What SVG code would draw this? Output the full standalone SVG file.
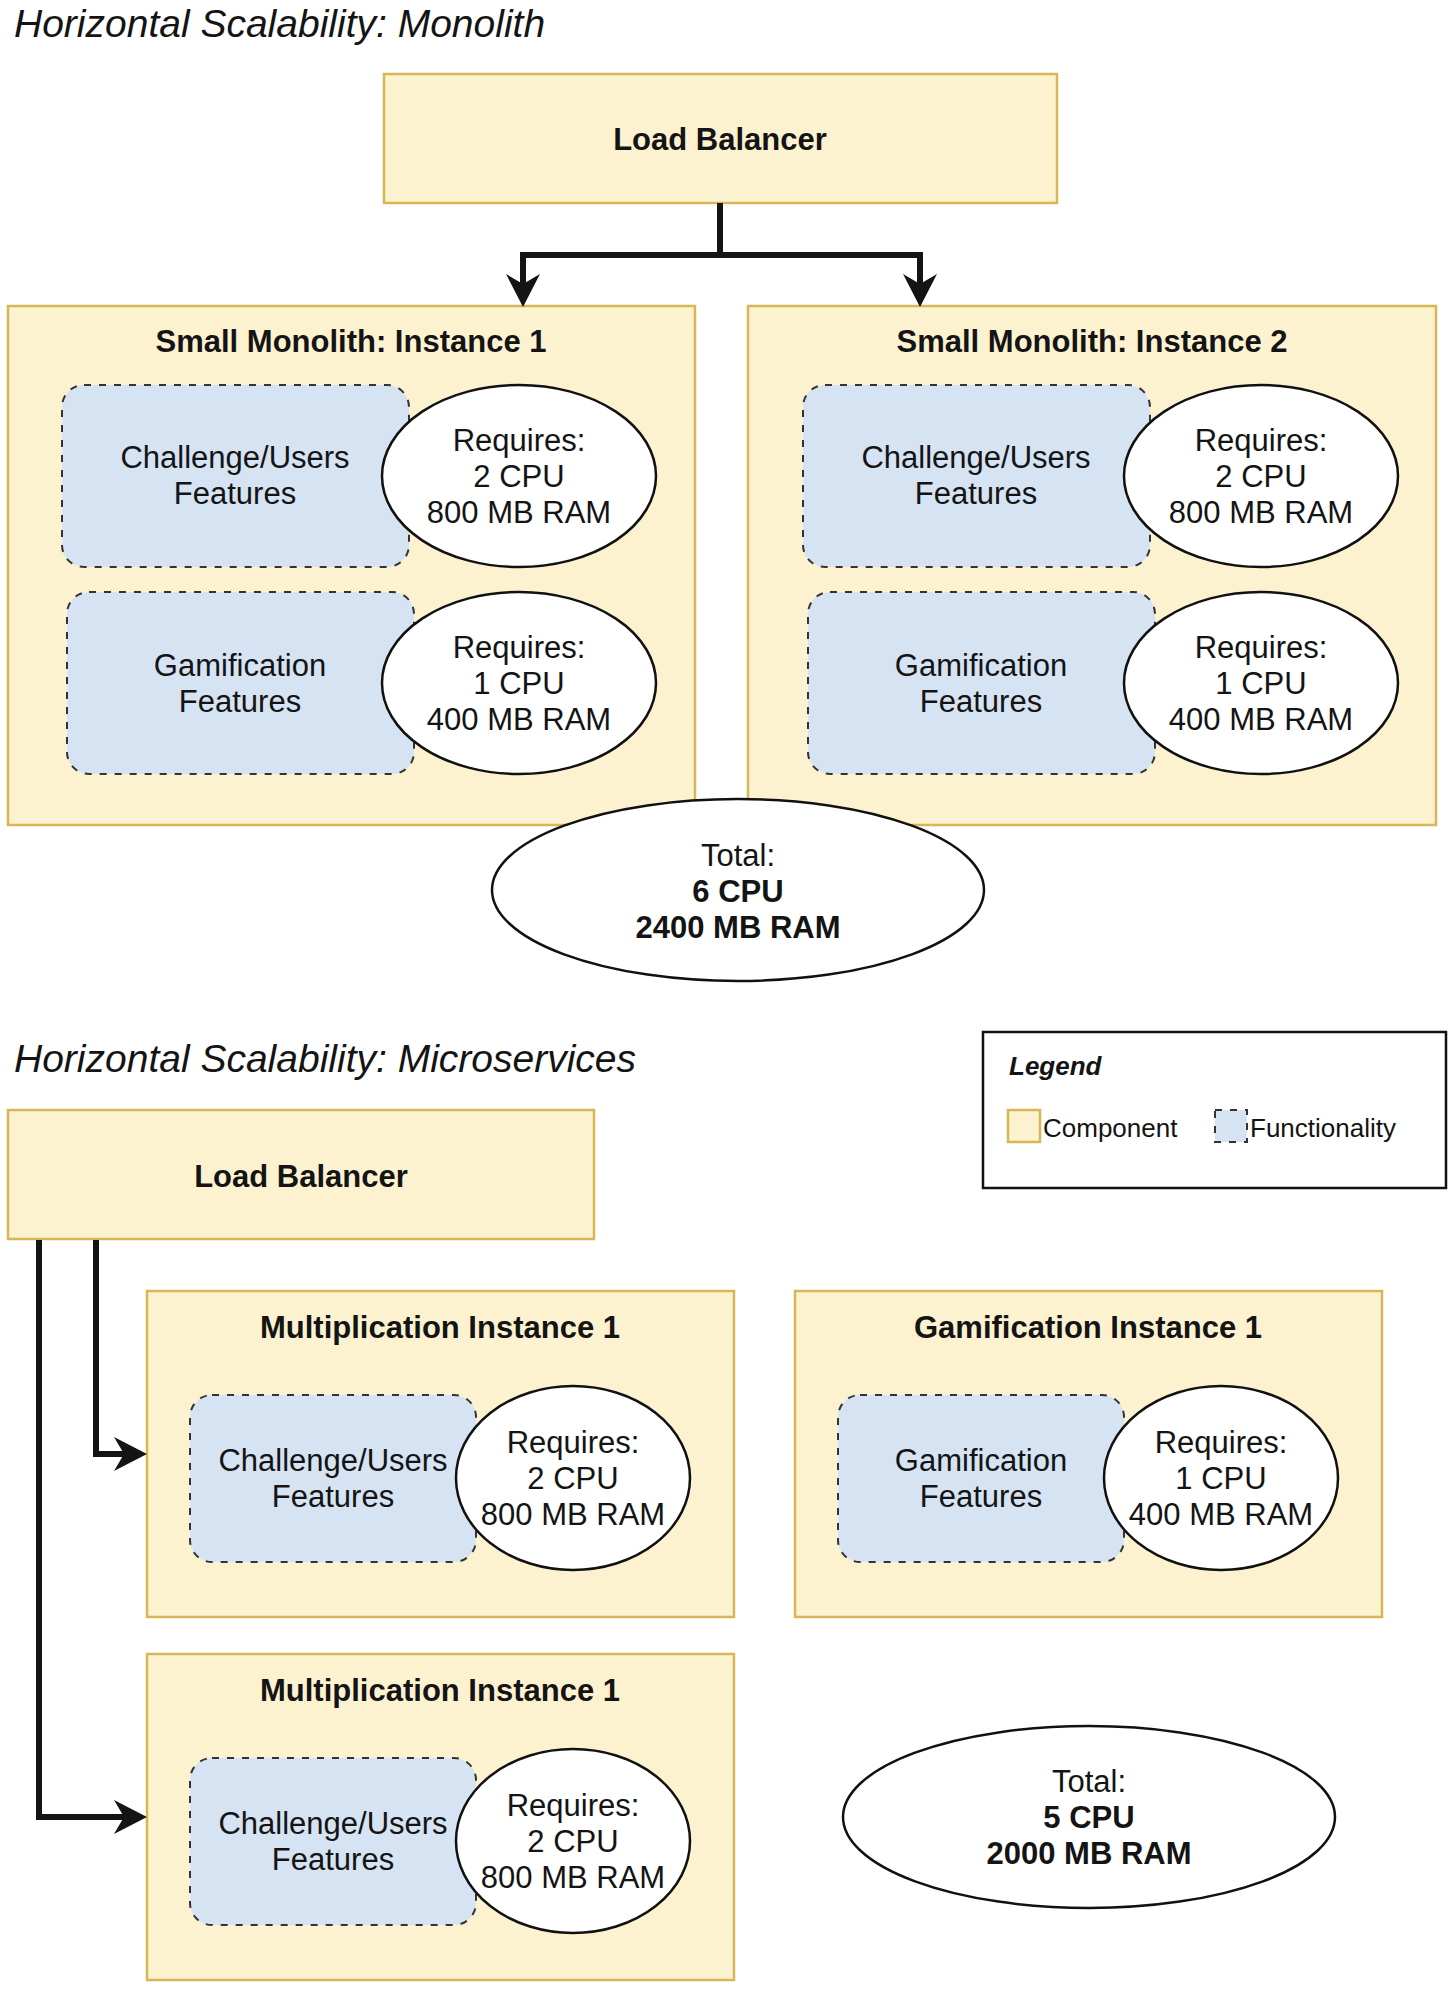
<svg xmlns="http://www.w3.org/2000/svg" width="1455" height="1989" viewBox="0 0 1455 1989">
<defs>
<style>
.bg{fill:#ffffff}
.comp{fill:#FDF2D0;stroke:#D6B656;stroke-width:2.5}
.func{fill:#D5E3F3;stroke:#333333;stroke-width:2;stroke-dasharray:7 8}
.ell{fill:#ffffff;stroke:#111111;stroke-width:2.5}
.t{font-family:"Liberation Sans",Arial,Helvetica,sans-serif;font-size:31px;fill:#141414;text-anchor:middle}
.b{font-weight:bold}
.title{font-family:"Liberation Sans",Arial,Helvetica,sans-serif;font-size:39px;font-style:italic;fill:#141414}
.leg{font-family:"Liberation Sans",Arial,Helvetica,sans-serif;font-size:26px;fill:#141414}
.conn{fill:none;stroke:#141414;stroke-width:6;stroke-linejoin:miter;stroke-linecap:butt}
</style>
<marker id="arr" viewBox="0 0 33 34" refX="10" refY="17" markerWidth="33" markerHeight="34" markerUnits="userSpaceOnUse" orient="auto">
<path d="M0,0 L33,17 L0,34 L10,17 Z" fill="#141414"/>
</marker>
</defs>
<rect class="bg" x="0" y="0" width="1455" height="1989"/>

<text class="title" x="14" y="37">Horizontal Scalability: Monolith</text>
<text class="title" x="14" y="1072">Horizontal Scalability: Microservices</text>

<g id="lb1">
<rect class="comp" x="384" y="74" width="673" height="129"/>
<text class="t b" x="720" y="150">Load Balancer</text>
</g>

<g id="mono1">
<rect class="comp" x="8" y="306" width="687" height="519"/>
<text class="t b" x="351" y="352">Small Monolith: Instance 1</text>
<rect class="func" x="62" y="385" width="347" height="182" rx="22"/>
<text class="t" x="235" y="468">Challenge/Users</text>
<text class="t" x="235" y="504">Features</text>
<ellipse class="ell" cx="519" cy="476" rx="137" ry="91"/>
<text class="t" x="519" y="451">Requires:</text>
<text class="t" x="519" y="487">2 CPU</text>
<text class="t" x="519" y="523">800 MB RAM</text>
<rect class="func" x="67" y="592" width="347" height="182" rx="22"/>
<text class="t" x="240" y="676">Gamification</text>
<text class="t" x="240" y="712">Features</text>
<ellipse class="ell" cx="519" cy="683" rx="137" ry="91"/>
<text class="t" x="519" y="658">Requires:</text>
<text class="t" x="519" y="694">1 CPU</text>
<text class="t" x="519" y="730">400 MB RAM</text>
</g>

<g id="mono2">
<rect class="comp" x="748" y="306" width="688" height="519"/>
<text class="t b" x="1092" y="352">Small Monolith: Instance 2</text>
<rect class="func" x="803" y="385" width="347" height="182" rx="22"/>
<text class="t" x="976" y="468">Challenge/Users</text>
<text class="t" x="976" y="504">Features</text>
<ellipse class="ell" cx="1261" cy="476" rx="137" ry="91"/>
<text class="t" x="1261" y="451">Requires:</text>
<text class="t" x="1261" y="487">2 CPU</text>
<text class="t" x="1261" y="523">800 MB RAM</text>
<rect class="func" x="808" y="592" width="347" height="182" rx="22"/>
<text class="t" x="981" y="676">Gamification</text>
<text class="t" x="981" y="712">Features</text>
<ellipse class="ell" cx="1261" cy="683" rx="137" ry="91"/>
<text class="t" x="1261" y="658">Requires:</text>
<text class="t" x="1261" y="694">1 CPU</text>
<text class="t" x="1261" y="730">400 MB RAM</text>
</g>

<g id="total1">
<ellipse class="ell" cx="738" cy="890" rx="246" ry="91"/>
<text class="t" x="738" y="866">Total:</text>
<text class="t b" x="738" y="902">6 CPU</text>
<text class="t b" x="738" y="938">2400 MB RAM</text>
</g>

<g id="legend">
<rect x="983" y="1032" width="463" height="156" fill="#ffffff" stroke="#111111" stroke-width="2.5"/>
<text class="leg" x="1009" y="1075" font-weight="bold" font-style="italic">Legend</text>
<rect class="comp" x="1008" y="1110" width="32" height="32" stroke-width="2"/>
<text class="leg" x="1043" y="1137">Component</text>
<rect class="func" x="1215" y="1110" width="32" height="32" stroke-dasharray="6 6"/>
<text class="leg" x="1250" y="1137">Functionality</text>
</g>

<g id="lb2">
<rect class="comp" x="8" y="1110" width="586" height="129"/>
<text class="t b" x="301" y="1187">Load Balancer</text>
</g>

<g id="mult1">
<rect class="comp" x="147" y="1291" width="587" height="326"/>
<text class="t b" x="440" y="1338">Multiplication Instance 1</text>
<rect class="func" x="190" y="1395" width="286" height="167" rx="22"/>
<text class="t" x="333" y="1471">Challenge/Users</text>
<text class="t" x="333" y="1507">Features</text>
<ellipse class="ell" cx="573" cy="1478" rx="117" ry="92"/>
<text class="t" x="573" y="1453">Requires:</text>
<text class="t" x="573" y="1489">2 CPU</text>
<text class="t" x="573" y="1525">800 MB RAM</text>
</g>

<g id="gam1">
<rect class="comp" x="795" y="1291" width="587" height="326"/>
<text class="t b" x="1088" y="1338">Gamification Instance 1</text>
<rect class="func" x="838" y="1395" width="286" height="167" rx="22"/>
<text class="t" x="981" y="1471">Gamification</text>
<text class="t" x="981" y="1507">Features</text>
<ellipse class="ell" cx="1221" cy="1478" rx="117" ry="92"/>
<text class="t" x="1221" y="1453">Requires:</text>
<text class="t" x="1221" y="1489">1 CPU</text>
<text class="t" x="1221" y="1525">400 MB RAM</text>
</g>

<g id="mult2">
<rect class="comp" x="147" y="1654" width="587" height="326"/>
<text class="t b" x="440" y="1701">Multiplication Instance 1</text>
<rect class="func" x="190" y="1758" width="286" height="167" rx="22"/>
<text class="t" x="333" y="1834">Challenge/Users</text>
<text class="t" x="333" y="1870">Features</text>
<ellipse class="ell" cx="573" cy="1841" rx="117" ry="92"/>
<text class="t" x="573" y="1816">Requires:</text>
<text class="t" x="573" y="1852">2 CPU</text>
<text class="t" x="573" y="1888">800 MB RAM</text>
</g>

<g id="total2">
<ellipse class="ell" cx="1089" cy="1817" rx="246" ry="91"/>
<text class="t" x="1089" y="1792">Total:</text>
<text class="t b" x="1089" y="1828">5 CPU</text>
<text class="t b" x="1089" y="1864">2000 MB RAM</text>
</g>

<g id="connectors">
<path class="conn" d="M720,203 V255 H523 V284" marker-end="url(#arr)"/>
<path class="conn" d="M720,255 H920 V284" marker-end="url(#arr)"/>
<path class="conn" d="M96,1240 V1454 H124" marker-end="url(#arr)"/>
<path class="conn" d="M39,1240 V1817 H124" marker-end="url(#arr)"/>
</g>
</svg>
